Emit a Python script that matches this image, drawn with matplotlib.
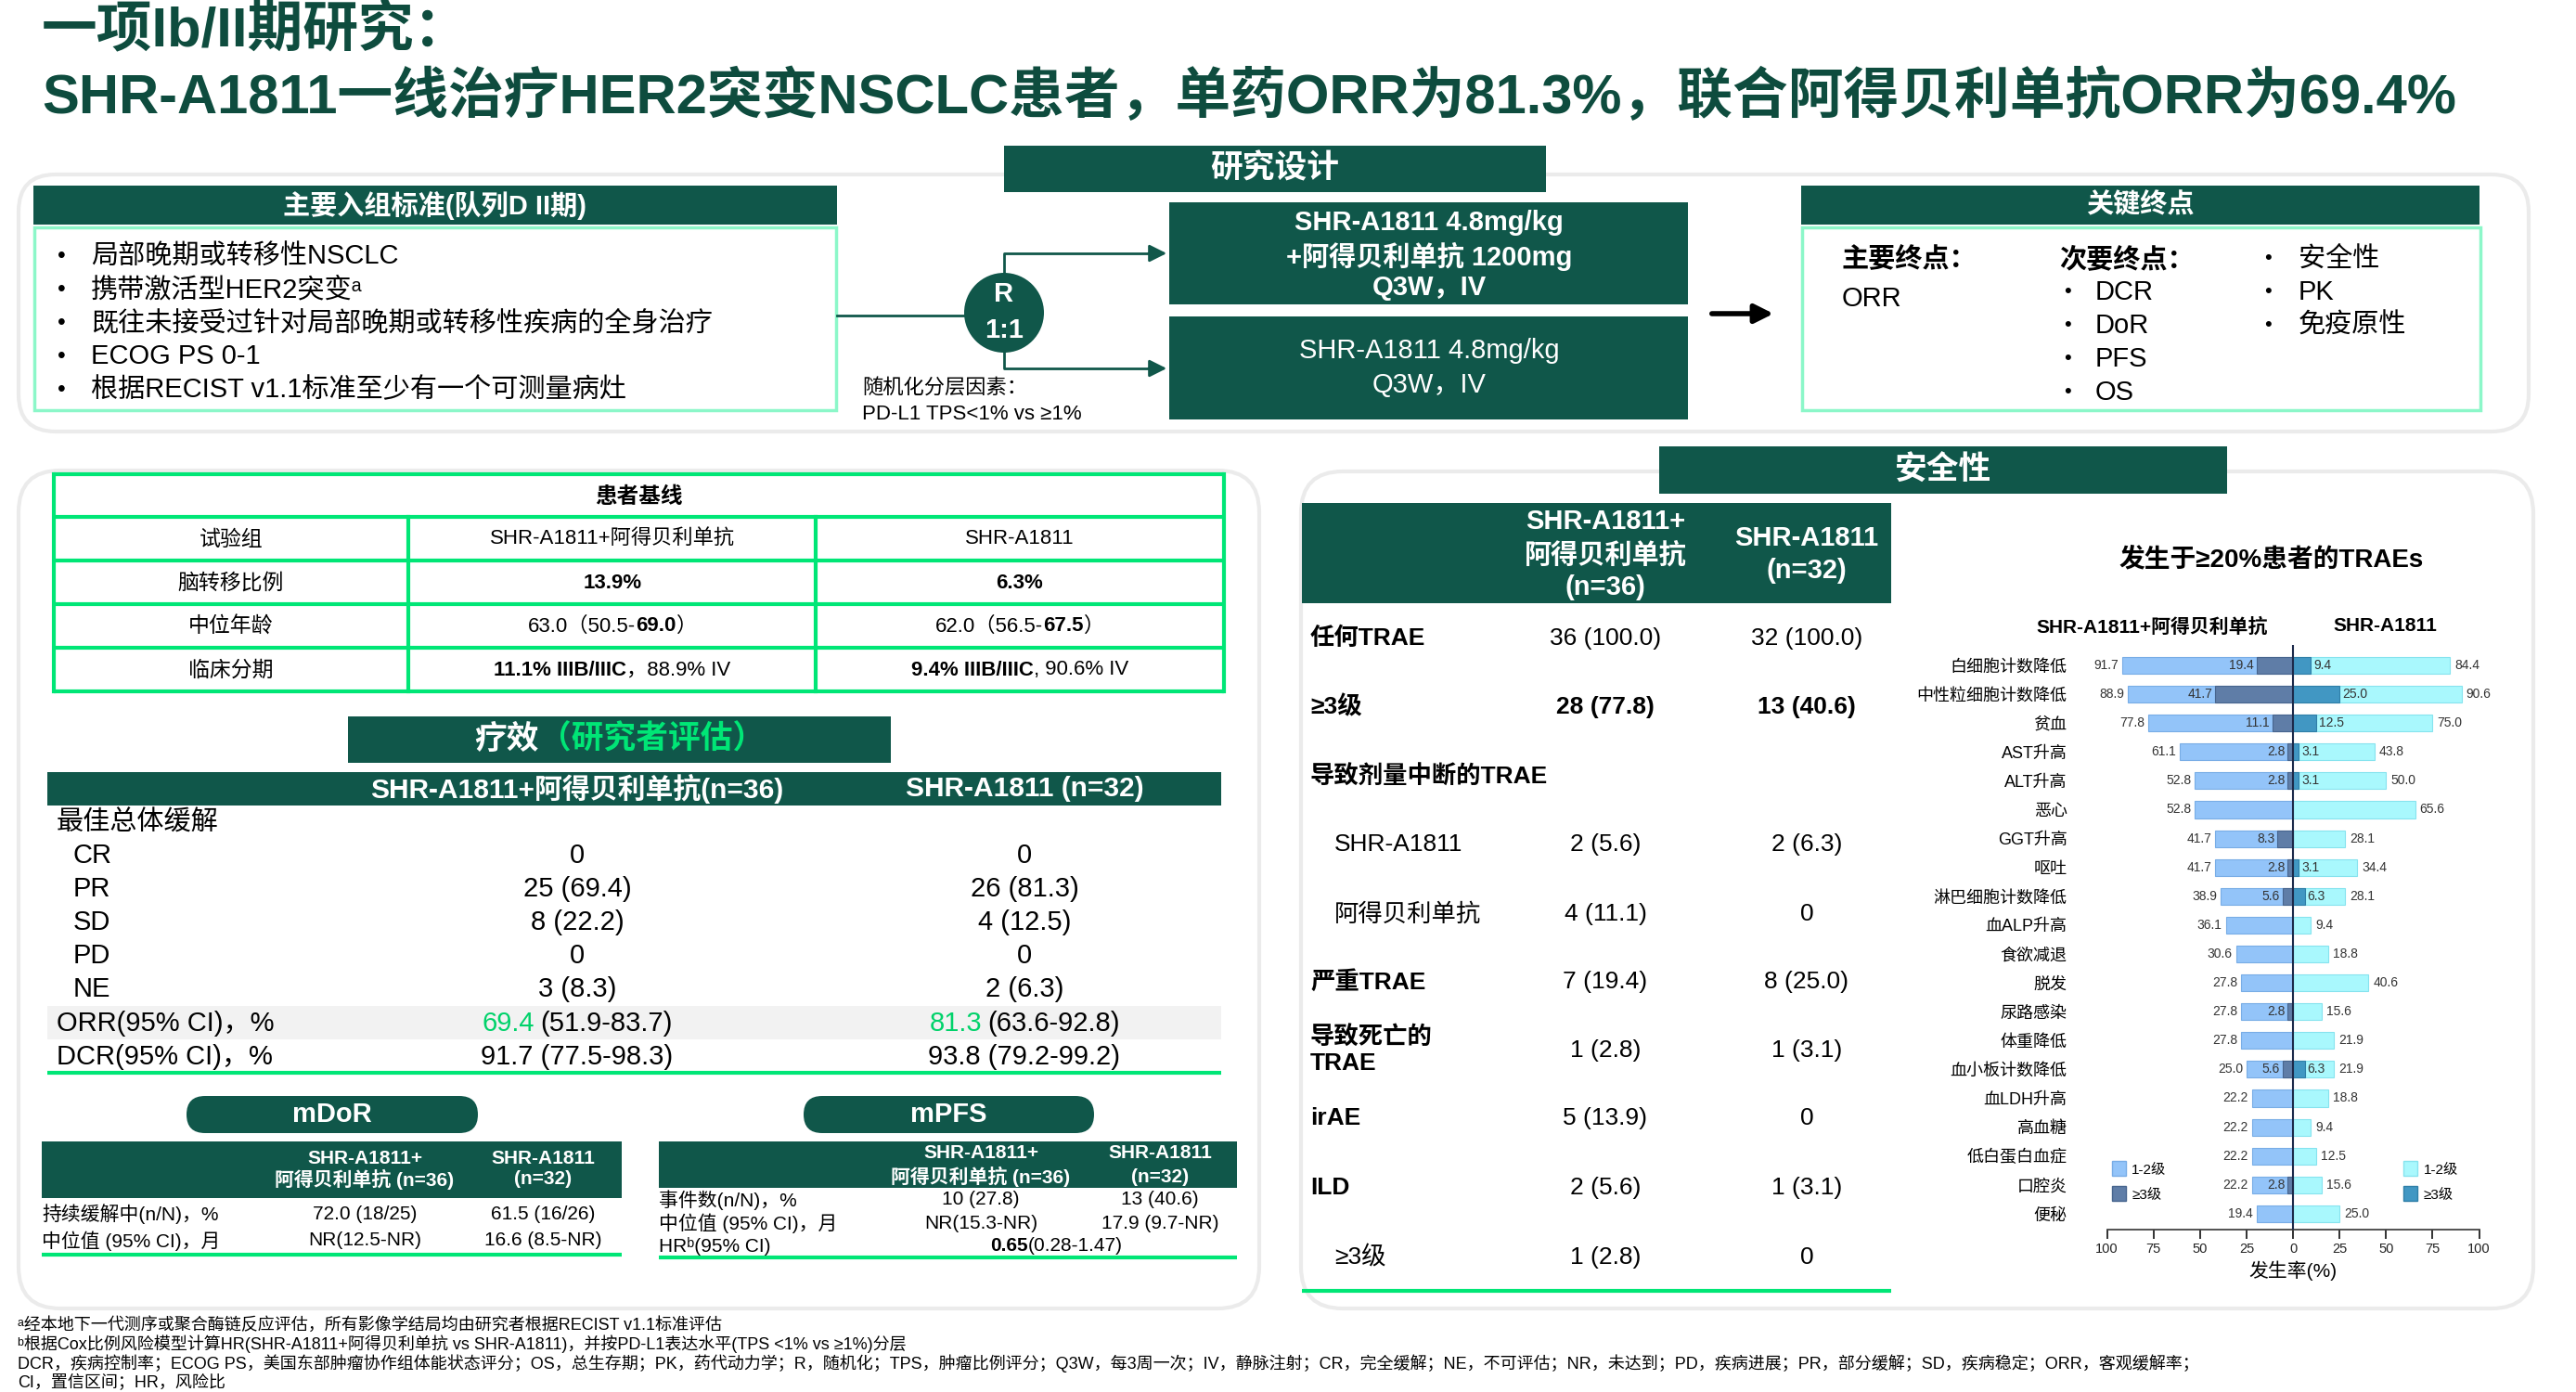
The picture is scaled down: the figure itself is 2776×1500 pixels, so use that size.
import matplotlib
matplotlib.use('Agg')
import matplotlib.pyplot as plt
from matplotlib.patches import FancyBboxPatch, Circle, Patch
import numpy as np

plt.rcParams['font.family'] = ['Liberation Sans', 'Noto Sans CJK SC', 'DejaVu Sans']

W, H = 2776, 1500
DARK = '#10574a'
TITLE = '#0e4c3e'
MINT = '#8cf7c9'
GREEN = '#00e676'
PANEL = '#ebebeb'

# ---------------- data ----------------
title_1 = '一项Ib/II期研究：'
title_2 = 'SHR-A1811一线治疗HER2突变NSCLC患者，单药ORR为81.3%，联合阿得贝利单抗ORR为69.4%'

criteria = ['局部晚期或转移性NSCLC', '携带激活型HER2突变ᵃ', '既往未接受过针对局部晚期或转移性疾病的全身治疗',
            'ECOG PS 0-1', '根据RECIST v1.1标准至少有一个可测量病灶']
arm_1 = ['SHR-A1811 4.8mg/kg', '+阿得贝利单抗 1200mg', 'Q3W，IV']
arm_2 = ['SHR-A1811 4.8mg/kg', 'Q3W，IV']
strat = ['随机化分层因素：', 'PD-L1 TPS<1% vs ≥1%']
primary_ep = ['ORR']
secondary_ep = ['DCR', 'DoR', 'PFS', 'OS']
other_ep = ['安全性', 'PK', '免疫原性']

baseline_labels = ['试验组', '脑转移比例', '中位年龄', '临床分期']
baseline_combo = [[('SHR-A1811+阿得贝利单抗', 'normal')], [('13.9%', 'bold')],
                  [('63.0（50.5-', 'normal'), ('69.0', 'bold'), ('）', 'normal')],
                  [('11.1% IIIB/IIIC', 'bold'), ('，88.9% IV', 'normal')]]
baseline_mono = [[('SHR-A1811', 'normal')], [('6.3%', 'bold')],
                 [('62.0（56.5-', 'normal'), ('67.5', 'bold'), ('）', 'normal')],
                 [('9.4% IIIB/IIIC', 'bold'), (', 90.6% IV', 'normal')]]

bor_labels = ['CR', 'PR', 'SD', 'PD', 'NE']
bor_combo = ['0', '25 (69.4)', '8 (22.2)', '0', '3 (8.3)']
bor_mono = ['0', '26 (81.3)', '4 (12.5)', '0', '2 (6.3)']
orr_combo = ['69.4', '(51.9-83.7)']
orr_mono = ['81.3', '(63.6-92.8)']
dcr_combo = '91.7 (77.5-98.3)'
dcr_mono = '93.8 (79.2-99.2)'

dor_rows = ['持续缓解中(n/N)，%', '中位值 (95% CI)，月']
dor_combo = ['72.0 (18/25)', 'NR(12.5-NR)']
dor_mono = ['61.5 (16/26)', '16.6 (8.5-NR)']
pfs_rows = ['事件数(n/N)，%', '中位值 (95% CI)，月']
pfs_combo = ['10 (27.8)', 'NR(15.3-NR)']
pfs_mono = ['13 (40.6)', '17.9 (9.7-NR)']
pfs_hr = ['0.65', '(0.28-1.47)']

safety_labels = ['任何TRAE', '≥3级', '导致剂量中断的TRAE', 'SHR-A1811', '阿得贝利单抗',
                 '严重TRAE', '导致死亡的\nTRAE', 'irAE', 'ILD', '≥3级']
safety_combo = ['36 (100.0)', '28 (77.8)', '', '2 (5.6)', '4 (11.1)', '7 (19.4)',
                '1 (2.8)', '5 (13.9)', '2 (5.6)', '1 (2.8)']
safety_mono = ['32 (100.0)', '13 (40.6)', '', '2 (6.3)', '0', '8 (25.0)',
               '1 (3.1)', '0', '1 (3.1)', '0']

trae_names = ['白细胞计数降低', '中性粒细胞计数降低', '贫血', 'AST升高', 'ALT升高', '恶心',
              'GGT升高', '呕吐', '淋巴细胞计数降低', '血ALP升高', '食欲减退', '脱发',
              '尿路感染', '体重降低', '血小板计数降低', '血LDH升高', '高血糖', '低白蛋白血症',
              '口腔炎', '便秘']
combo_all = [91.7, 88.9, 77.8, 61.1, 52.8, 52.8, 41.7, 41.7, 38.9, 36.1,
             30.6, 27.8, 27.8, 27.8, 25.0, 22.2, 22.2, 22.2, 22.2, 19.4]
combo_g3 = [19.4, 41.7, 11.1, 2.8, 2.8, 0, 8.3, 2.8, 5.6, 0,
            0, 0, 2.8, 0, 5.6, 0, 0, 0, 2.8, 0]
mono_all = [84.4, 90.6, 75.0, 43.8, 50.0, 65.6, 28.1, 34.4, 28.1, 9.4,
            18.8, 40.6, 15.6, 21.9, 21.9, 18.8, 9.4, 12.5, 15.6, 25.0]
mono_g3 = [9.4, 25.0, 12.5, 3.1, 3.1, 0, 0, 3.1, 6.3, 0,
           0, 0, 0, 0, 6.3, 0, 0, 0, 0, 0]

footnotes = ['ᵃ经本地下一代测序或聚合酶链反应评估，所有影像学结局均由研究者根据RECIST v1.1标准评估',
             'ᵇ根据Cox比例风险模型计算HR(SHR-A1811+阿得贝利单抗 vs SHR-A1811)，并按PD-L1表达水平(TPS <1% vs ≥1%)分层',
             'DCR，疾病控制率；ECOG PS，美国东部肿瘤协作组体能状态评分；OS，总生存期；PK，药代动力学；R，随机化；TPS，肿瘤比例评分；'
             'Q3W，每3周一次；IV，静脉注射；CR，完全缓解；NE，不可评估；NR，未达到；PD，疾病进展；PR，部分缓解；SD，疾病稳定；ORR，客观缓解率；',
             'CI，置信区间；HR，风险比']

# ---------------- canvas ----------------
fig = plt.figure(figsize=(W / 100, H / 100), dpi=100)
ax = fig.add_axes([0, 0, 1, 1])
ax.set_xlim(0, W)
ax.set_ylim(H, 0)
ax.axis('off')
renderer = fig.canvas.get_renderer()


def box(x0, y0, x1, y1, fc, ec='none', lw=0, r=0, z=1):
    style = 'round,pad=0,rounding_size=%d' % r if r else 'square,pad=0'
    ax.add_patch(FancyBboxPatch((x0, y0), x1 - x0, y1 - y0, boxstyle=style,
                                fc=fc, ec=ec, lw=lw, zorder=z))


def txt(x, y, s, size, ha='center', weight='normal', color='black', **kw):
    return ax.text(x, y, s, fontsize=size, ha=ha, va='center', fontweight=weight,
                   color=color, zorder=5, **kw)


def rich(x, y, parts, size, ha='center', gap=0):
    # parts: (text, weight, color) drawn one after the other
    objs = [txt(0, y, s, size, ha='left', weight=w, color=c) for s, w, c in parts]
    widths = [t.get_window_extent(renderer).width for t in objs]
    total = sum(widths) + gap * (len(objs) - 1)
    pos = x - total / 2 if ha == 'center' else x
    for t, w in zip(objs, widths):
        t.set_x(pos)
        pos += w + gap


def hline(x0, x1, y, color, lw):
    ax.plot([x0, x1], [y, y], color=color, lw=lw, solid_capstyle='butt', zorder=4)


# title
txt(45, 34, title_1, 43, ha='left', weight='bold', color=TITLE)
txt(45, 104, title_2, 43, ha='left', weight='bold', color=TITLE)

# ---------------- study design ----------------
box(20, 188, 2725, 465, 'white', PANEL, 3, r=40, z=0)
box(1082, 157, 1666, 207, DARK)
txt(1374, 182, '研究设计', 25, weight='bold', color='white')

box(36, 200, 902, 242, DARK)
txt(469, 221, '主要入组标准(队列D II期)', 21, weight='bold', color='white')
box(37, 245, 901, 442, 'white', MINT, 2.5)
for i, s in enumerate(criteria):
    y = 276 + i * 36
    txt(62, y, '•', 18, ha='left')
    txt(98, y, s, 21, ha='left')

ax.plot([902, 1040], [340, 340], color=DARK, lw=2, zorder=2)
ax.plot([1082, 1082, 1250], [300, 273, 273], color=DARK, lw=2, zorder=2)
ax.plot([1082, 1082, 1250], [375, 397, 397], color=DARK, lw=2, zorder=2)
for yy in (273, 397):
    ax.annotate('', xy=(1260, yy), xytext=(1235, yy),
                arrowprops=dict(arrowstyle='-|>', color=DARK, lw=2, mutation_scale=28), zorder=3)
ax.add_patch(Circle((1082, 337), 43, fc=DARK, ec='none', zorder=3))
txt(1082, 317, 'R', 21, weight='bold', color='white')
txt(1082, 356, '1:1', 21, weight='bold', color='white')
txt(929, 418, strat[0], 16, ha='left')
txt(929, 446, strat[1], 16, ha='left')

box(1260, 218, 1819, 328, DARK)
for s, y in zip(arm_1, [240, 276, 310]):
    txt(1540, y, s, 21, weight='bold', color='white')
box(1260, 341, 1819, 452, DARK)
for s, y in zip(arm_2, [378, 415]):
    txt(1540, y, s, 21, color='white')

ax.annotate('', xy=(1914, 338), xytext=(1842, 338),
            arrowprops=dict(arrowstyle='-|>', color='black', lw=4, mutation_scale=30))

box(1941, 200, 2672, 242, DARK)
txt(2306, 221, '关键终点', 21, weight='bold', color='white')
box(1942, 245, 2673, 442, 'white', MINT, 2.5)
txt(1985, 280, '主要终点：', 21, ha='left', weight='bold')
txt(1985, 322, primary_ep[0], 21, ha='left')
txt(2219, 280, '次要终点：', 21, ha='left', weight='bold')
for i, s in enumerate(secondary_ep):
    txt(2224, 315 + i * 36, '•', 16, ha='left')
    txt(2258, 315 + i * 36, s, 21, ha='left')
for i, s in enumerate(other_ep):
    txt(2440, 279 + i * 36, '•', 16, ha='left')
    txt(2477, 279 + i * 36, s, 21, ha='left')

# ---------------- baseline + efficacy ----------------
box(20, 507, 1357, 1410, 'white', PANEL, 3, r=45, z=0)

bx_edges = [58, 440, 879, 1319]
by_edges = [511, 557, 604, 651, 698, 745]
for y in by_edges:
    hline(58, 1319, y, GREEN, 3)
for x in bx_edges:
    top = 511 if x in (58, 1319) else 557
    ax.plot([x, x], [top, 745], color=GREEN, lw=3, zorder=4)
txt(688, 535, '患者基线', 17, weight='bold')
for i, lab in enumerate(baseline_labels):
    y = 581 + i * 47
    txt(249, y, lab, 16.5)
    rich(660, y, [(s, w, 'black') for s, w in baseline_combo[i]], 16)
    rich(1099, y, [(s, w, 'black') for s, w in baseline_mono[i]], 16)

box(375, 772, 960, 822, DARK)
rich(668, 797, [('疗效', 'bold', 'white'), ('（研究者评估）', 'bold', GREEN)], 25)

box(51, 832, 1316, 868, DARK)
txt(622, 850, 'SHR-A1811+阿得贝利单抗(n=36)', 21.5, weight='bold', color='white')
txt(1104, 850, 'SHR-A1811 (n=32)', 21.5, weight='bold', color='white')
txt(61, 887, '最佳总体缓解', 21, ha='left')
for i, lab in enumerate(bor_labels):
    y = 922 + i * 36
    txt(79, y, lab, 21, ha='left')
    txt(622, y, bor_combo[i], 21)
    txt(1104, y, bor_mono[i], 21)
box(51, 1084, 1316, 1120, '#f2f2f2', z=0.5)
txt(61, 1103, 'ORR(95% CI)，%', 21, ha='left')
rich(622, 1103, [(orr_combo[0], 'normal', '#00d26a'), (orr_combo[1], 'normal', 'black')], 21, gap=6)
rich(1104, 1103, [(orr_mono[0], 'normal', '#00d26a'), (orr_mono[1], 'normal', 'black')], 21, gap=6)
txt(61, 1139, 'DCR(95% CI)，%', 21, ha='left')
txt(622, 1139, dcr_combo, 21)
txt(1104, 1139, dcr_mono, 21)
hline(51, 1316, 1156, GREEN, 3)

# mDoR
box(201, 1181, 515, 1221, DARK, r=20)
txt(358, 1201, 'mDoR', 21, weight='bold', color='white')
box(45, 1230, 670, 1291, DARK)
txt(393, 1248, 'SHR-A1811+', 15, weight='bold', color='white')
txt(393, 1271, '阿得贝利单抗 (n=36)', 15, weight='bold', color='white')
txt(585, 1248, 'SHR-A1811', 15, weight='bold', color='white')
txt(585, 1271, '(n=32)', 15, weight='bold', color='white')
for i, lab in enumerate(dor_rows):
    y = 1308 + i * 29
    txt(45, y, lab, 15, ha='left')
    txt(393, y, dor_combo[i], 15)
    txt(585, y, dor_mono[i], 15)
hline(45, 670, 1352, GREEN, 3)

# mPFS
box(866, 1181, 1179, 1221, DARK, r=20)
txt(1022, 1201, 'mPFS', 21, weight='bold', color='white')
box(710, 1230, 1333, 1280, DARK)
txt(1057, 1243, 'SHR-A1811+', 15, weight='bold', color='white')
txt(1057, 1268, '阿得贝利单抗 (n=36)', 15, weight='bold', color='white')
txt(1250, 1243, 'SHR-A1811', 15, weight='bold', color='white')
txt(1250, 1268, '(n=32)', 15, weight='bold', color='white')
for i, lab in enumerate(pfs_rows):
    y = 1293 + i * 25
    txt(710, y, lab, 15, ha='left')
    txt(1057, y, pfs_combo[i], 15)
    txt(1250, y, pfs_mono[i], 15)
txt(710, 1343, 'HRᵇ(95% CI)', 15, ha='left')
rich(1138, 1343, [(pfs_hr[0], 'bold', 'black'), (pfs_hr[1], 'normal', 'black')], 15)
hline(710, 1333, 1355, GREEN, 3)

# ---------------- safety ----------------
box(1402, 508, 2730, 1410, 'white', PANEL, 3, r=45, z=0)
box(1788, 481, 2400, 532, DARK)
txt(2094, 507, '安全性', 25, weight='bold', color='white')

box(1403, 542, 2038, 650, DARK)
for s, y in zip(['SHR-A1811+', '阿得贝利单抗', '(n=36)'], [562, 598, 633]):
    txt(1730, y, s, 21, weight='bold', color='white')
for s, y in zip(['SHR-A1811', '(n=32)'], [580, 615]):
    txt(1947, y, s, 21, weight='bold', color='white')

safety_y = [688, 762, 837, 910, 985, 1058, 1132, 1205, 1280, 1355]
for i, lab in enumerate(safety_labels):
    y = safety_y[i]
    sub = i in (3, 4, 9)
    txt(1438 if sub else 1412, y, lab, 19, ha='left', weight='normal' if sub else 'bold',
        linespacing=1.15)
    w = 'bold' if i == 1 else 'normal'
    txt(1730, y, safety_combo[i], 19, weight=w)
    txt(1947, y, safety_mono[i], 19, weight=w)
hline(1403, 2038, 1391, GREEN, 3)

txt(2448, 603, '发生于≥20%患者的TRAEs', 20, weight='bold')
txt(2319, 675, 'SHR-A1811+阿得贝利单抗', 15, weight='bold')
txt(2570, 675, 'SHR-A1811', 15, weight='bold')

# butterfly bar chart
bx = fig.add_axes([2270.6 / W, (H - 1325) / H, 400.9 / W, 630 / H])
bx.set_facecolor('none')
n = len(trae_names)
yy = -np.arange(n)
c_all = np.array(combo_all)
c_g3 = np.array(combo_g3)
m_all = np.array(mono_all)
m_g3 = np.array(mono_g3)

bx.barh(yy, -c_all, height=0.58, color='#93c4f9', edgecolor='#78ade6', lw=0.8, zorder=2)
bx.barh(yy, m_all, height=0.58, color='#a9f8fd', edgecolor='#86e3ee', lw=0.8, zorder=2)
mask = c_g3 > 0
bx.barh(yy[mask], -c_g3[mask], height=0.58, color='#5f7da7', edgecolor='#47658e', lw=0.8, zorder=3)
mask = m_g3 > 0
bx.barh(yy[mask], m_g3[mask], height=0.58, color='#4197c3', edgecolor='#2f7fa8', lw=0.8, zorder=3)

for i in range(n):
    bx.text(-c_all[i] - 2, yy[i], '%.1f' % c_all[i], ha='right', va='center', fontsize=10, color='#333333')
    bx.text(m_all[i] + 2.5, yy[i], '%.1f' % m_all[i], ha='left', va='center', fontsize=10, color='#333333')
    if c_g3[i] > 0:
        bx.text(-c_g3[i] - 1.5, yy[i], '%.1f' % c_g3[i], ha='right', va='center', fontsize=10,
                color='#333333', zorder=4)
    if m_g3[i] > 0:
        bx.text(m_g3[i] + 1.5, yy[i], '%.1f' % m_g3[i], ha='left', va='center', fontsize=10,
                color='#333333', zorder=4)

bx.axvline(0, color='#1c2a4a', lw=1.5, zorder=5)
bx.set_xlim(-100, 100)
bx.set_ylim(-19.55, 0.707)
ticks = np.arange(-100, 101, 25)
bx.set_xticks(ticks)
bx.set_xticklabels([str(abs(t)) for t in ticks])
bx.set_yticks(yy)
bx.set_yticklabels(trae_names, fontsize=13)
bx.tick_params(axis='y', length=0, pad=31)
bx.tick_params(axis='x', direction='out', length=7, width=1.3, pad=3, labelsize=10.5, colors='#222222')
bx.set_xlabel('发生率(%)', fontsize=15, labelpad=4)
for side in ('top', 'right', 'left'):
    bx.spines[side].set_visible(False)
bx.spines['bottom'].set_color('#444444')
bx.spines['bottom'].set_linewidth(1.3)

leg_kw = dict(frameon=False, fontsize=11, handlelength=1.0, handleheight=1.25,
              labelspacing=0.7, handletextpad=0.4, borderpad=0, borderaxespad=0, loc='upper left')
leg1 = bx.legend(handles=[Patch(fc='#93c4f9', ec='#78ade6', label='1-2级'),
                          Patch(fc='#5f7da7', ec='#47658e', label='≥3级')],
                 bbox_to_anchor=(0.013, 0.117), **leg_kw)
bx.add_artist(leg1)
bx.legend(handles=[Patch(fc='#a9f8fd', ec='#86e3ee', label='1-2级'),
                   Patch(fc='#4197c3', ec='#2f7fa8', label='≥3级')],
          bbox_to_anchor=(0.797, 0.117), **leg_kw)

# footnotes
for i, s in enumerate(footnotes):
    txt(19, 1428 + i * 20.5, s, 13, ha='left')

fig.savefig('out.png', dpi=100)
